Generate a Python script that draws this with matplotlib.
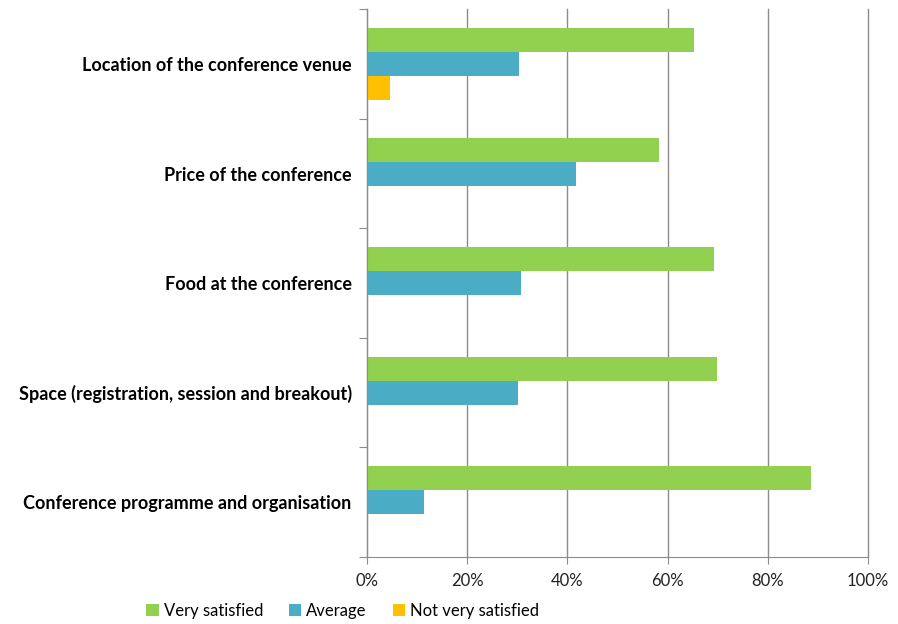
import matplotlib
matplotlib.use("Agg")
from matplotlib import pyplot as plt
from matplotlib.ticker import FixedLocator, PercentFormatter
import numpy as np

categories = ["Location of the conference venue",
              "Price of the conference",
              "Food at the conference",
              "Space (registration, session and breakout)",
              "Conference programme and organisation"]
very_satisfied = [65.3, 58.3, 69.2, 69.8, 88.6]
average = [30.4, 41.7, 30.8, 30.2, 11.4]
not_very_satisfied = [4.6, 0, 0, 0, 0]

series = [("Very satisfied", very_satisfied, "#92D050"),
          ("Average", average, "#4BACC6"),
          ("Not very satisfied", not_very_satisfied, "#FFC000")]

plt.rcParams['font.family'] = ['Lato', 'DejaVu Sans']

fig = plt.figure(figsize=(8.98, 6.24), dpi=100)
ax = fig.add_axes([0.4087, 0.1077, 0.558, 0.8773])

y = np.arange(len(categories))
h = 0.219
for i, (name, vals, col) in enumerate(series):
    ax.barh(y + (i - 1) * h, vals, height=h, color=col, label=name,
            edgecolor='none', zorder=3)

ax.set_xlim(0, 100)
ax.set_ylim(len(categories) - 0.5, -0.5)
ax.xaxis.set_major_locator(FixedLocator([0, 20, 40, 60, 80, 100]))
ax.xaxis.set_major_formatter(PercentFormatter(decimals=0))
ax.grid(axis='x', color='#8c8c8c', linewidth=1.0, zorder=0)
for gl in ax.get_xgridlines():
    gl.set_clip_on(False)

# ticks at category boundaries, labels at centres
ax.yaxis.set_major_locator(FixedLocator(np.arange(-0.5, len(categories), 1.0)))
ax.set_yticklabels([])
ax.yaxis.set_minor_locator(FixedLocator(y))
ax.set_yticks(y, categories, minor=True)
ax.tick_params(axis='y', which='minor', length=0, pad=11, labelsize=13)
for t in ax.get_yticklabels(minor=True):
    t.set_fontweight('bold')
ax.tick_params(axis='y', which='major', length=6, color='#8c8c8c', direction='out')
ax.tick_params(axis='x', length=5, color='#8c8c8c', labelsize=12, pad=7,
               labelcolor='#222222')

for s in ['top', 'right']:
    ax.spines[s].set_visible(False)
for s in ['left', 'bottom']:
    ax.spines[s].set_color('#8c8c8c')
    ax.spines[s].set_zorder(4)

ax.legend(loc='lower left', bbox_to_anchor=(-0.454, -0.125), ncol=3,
          frameon=False, fontsize=12, handlelength=0.75, handleheight=0.75,
          handletextpad=0.3, columnspacing=1.55, borderaxespad=0)

plt.savefig("out.png", dpi=100)
